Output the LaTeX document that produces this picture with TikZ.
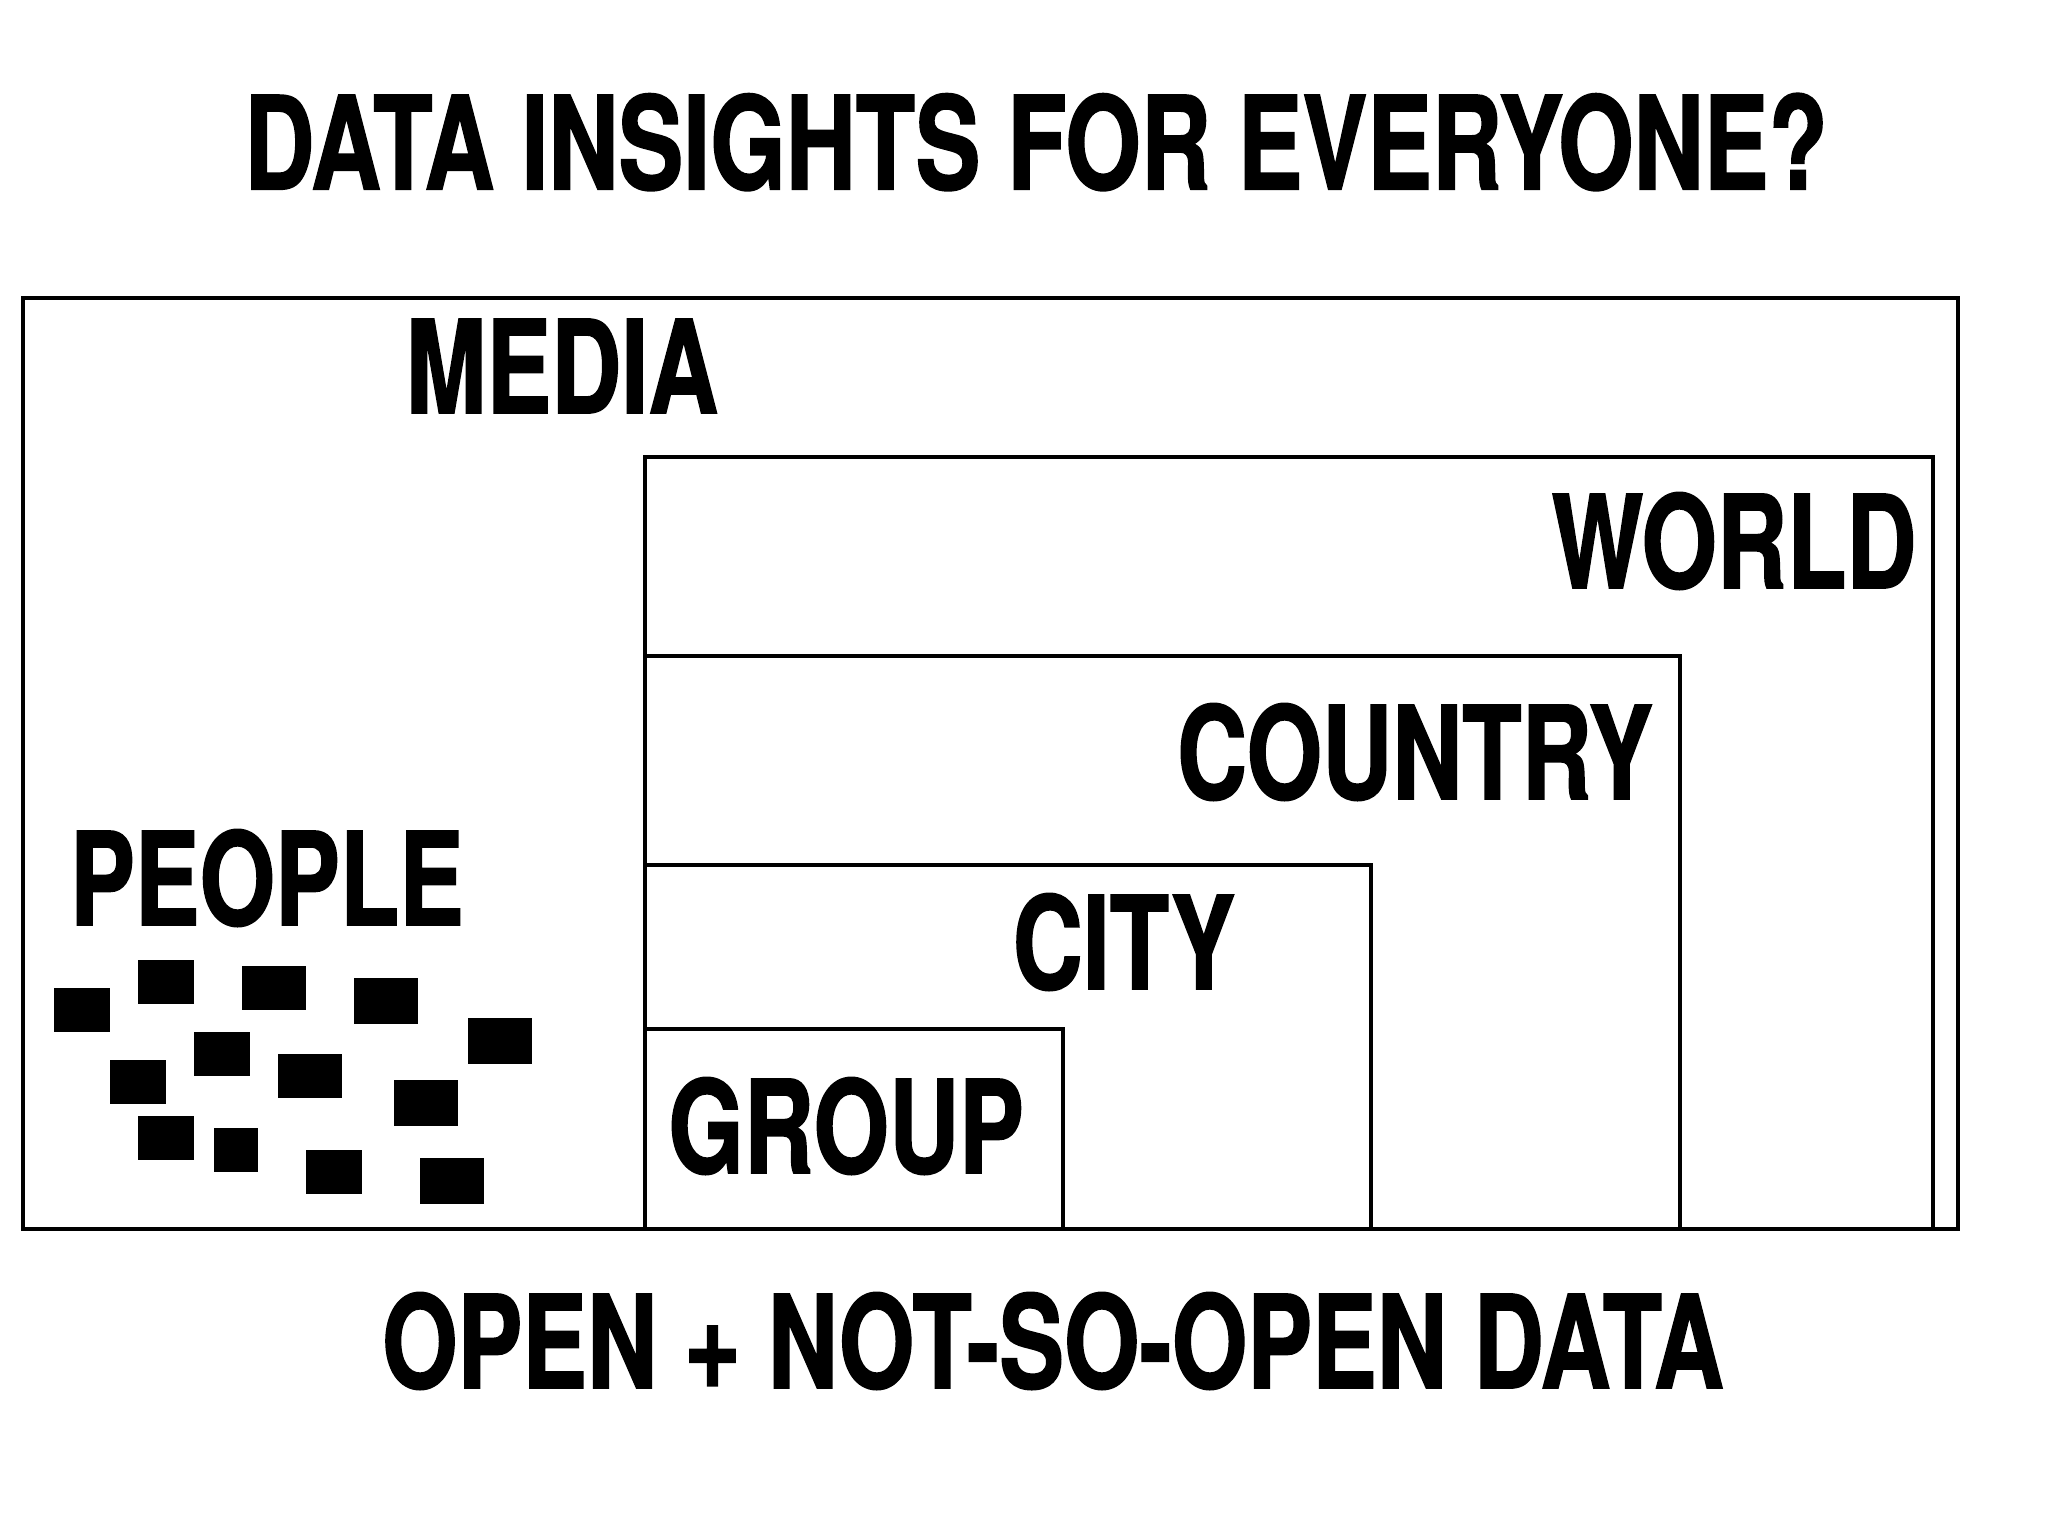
\documentclass[tikz,border=0pt]{standalone}
\usepackage{fontspec}
\newfontfamily\heavyfont{TeX Gyre Heros}[FakeStretch=0.75,FakeBold=1.2]
\tikzset{
  word/.style={inner sep=0pt, font=\heavyfont\bfseries\fontsize{36.8}{40}\selectfont},
  person/.style={fill=black, draw=none}
}
\begin{document}
\begin{tikzpicture}[x=0.01cm, y=-0.01cm, line width=1pt]
\useasboundingbox (0,0) rectangle (2048,1536);

% headline and footline
\node[word] (title) at (1036,142) {DATA INSIGHTS FOR EVERYONE?};
\node[word] (footer) at (1053,1341) {OPEN + NOT-SO-OPEN DATA};

% nested scale rectangles
\draw (23,298) rectangle (1958,1229);
\draw (645,457) rectangle (1933,1229);
\draw (645,656) rectangle (1680,1229);
\draw (645,865) rectangle (1371,1229);
\draw (645,1029) rectangle (1063,1229);

\node[word] (media) at (562,366) {MEDIA};
\node[word] (world) at (1734,541) {WORLD};
\node[word] (country) at (1415,752) {COUNTRY};
\node[word] (city) at (1124,942) {CITY};
\node[word] (group) at (846,1126) {GROUP};
\node[word] (people) at (267,878) {PEOPLE};

% people
\fill[person] (54,988) rectangle (110,1032);
\fill[person] (138,960) rectangle (194,1004);
\fill[person] (242,966) rectangle (306,1010);
\fill[person] (354,978) rectangle (418,1024);
\fill[person] (468,1018) rectangle (532,1064);
\fill[person] (110,1060) rectangle (166,1104);
\fill[person] (194,1032) rectangle (250,1076);
\fill[person] (278,1054) rectangle (342,1098);
\fill[person] (394,1080) rectangle (458,1126);
\fill[person] (138,1116) rectangle (194,1160);
\fill[person] (214,1128) rectangle (258,1172);
\fill[person] (306,1150) rectangle (362,1194);
\fill[person] (420,1158) rectangle (484,1204);

\end{tikzpicture}
\end{document}
